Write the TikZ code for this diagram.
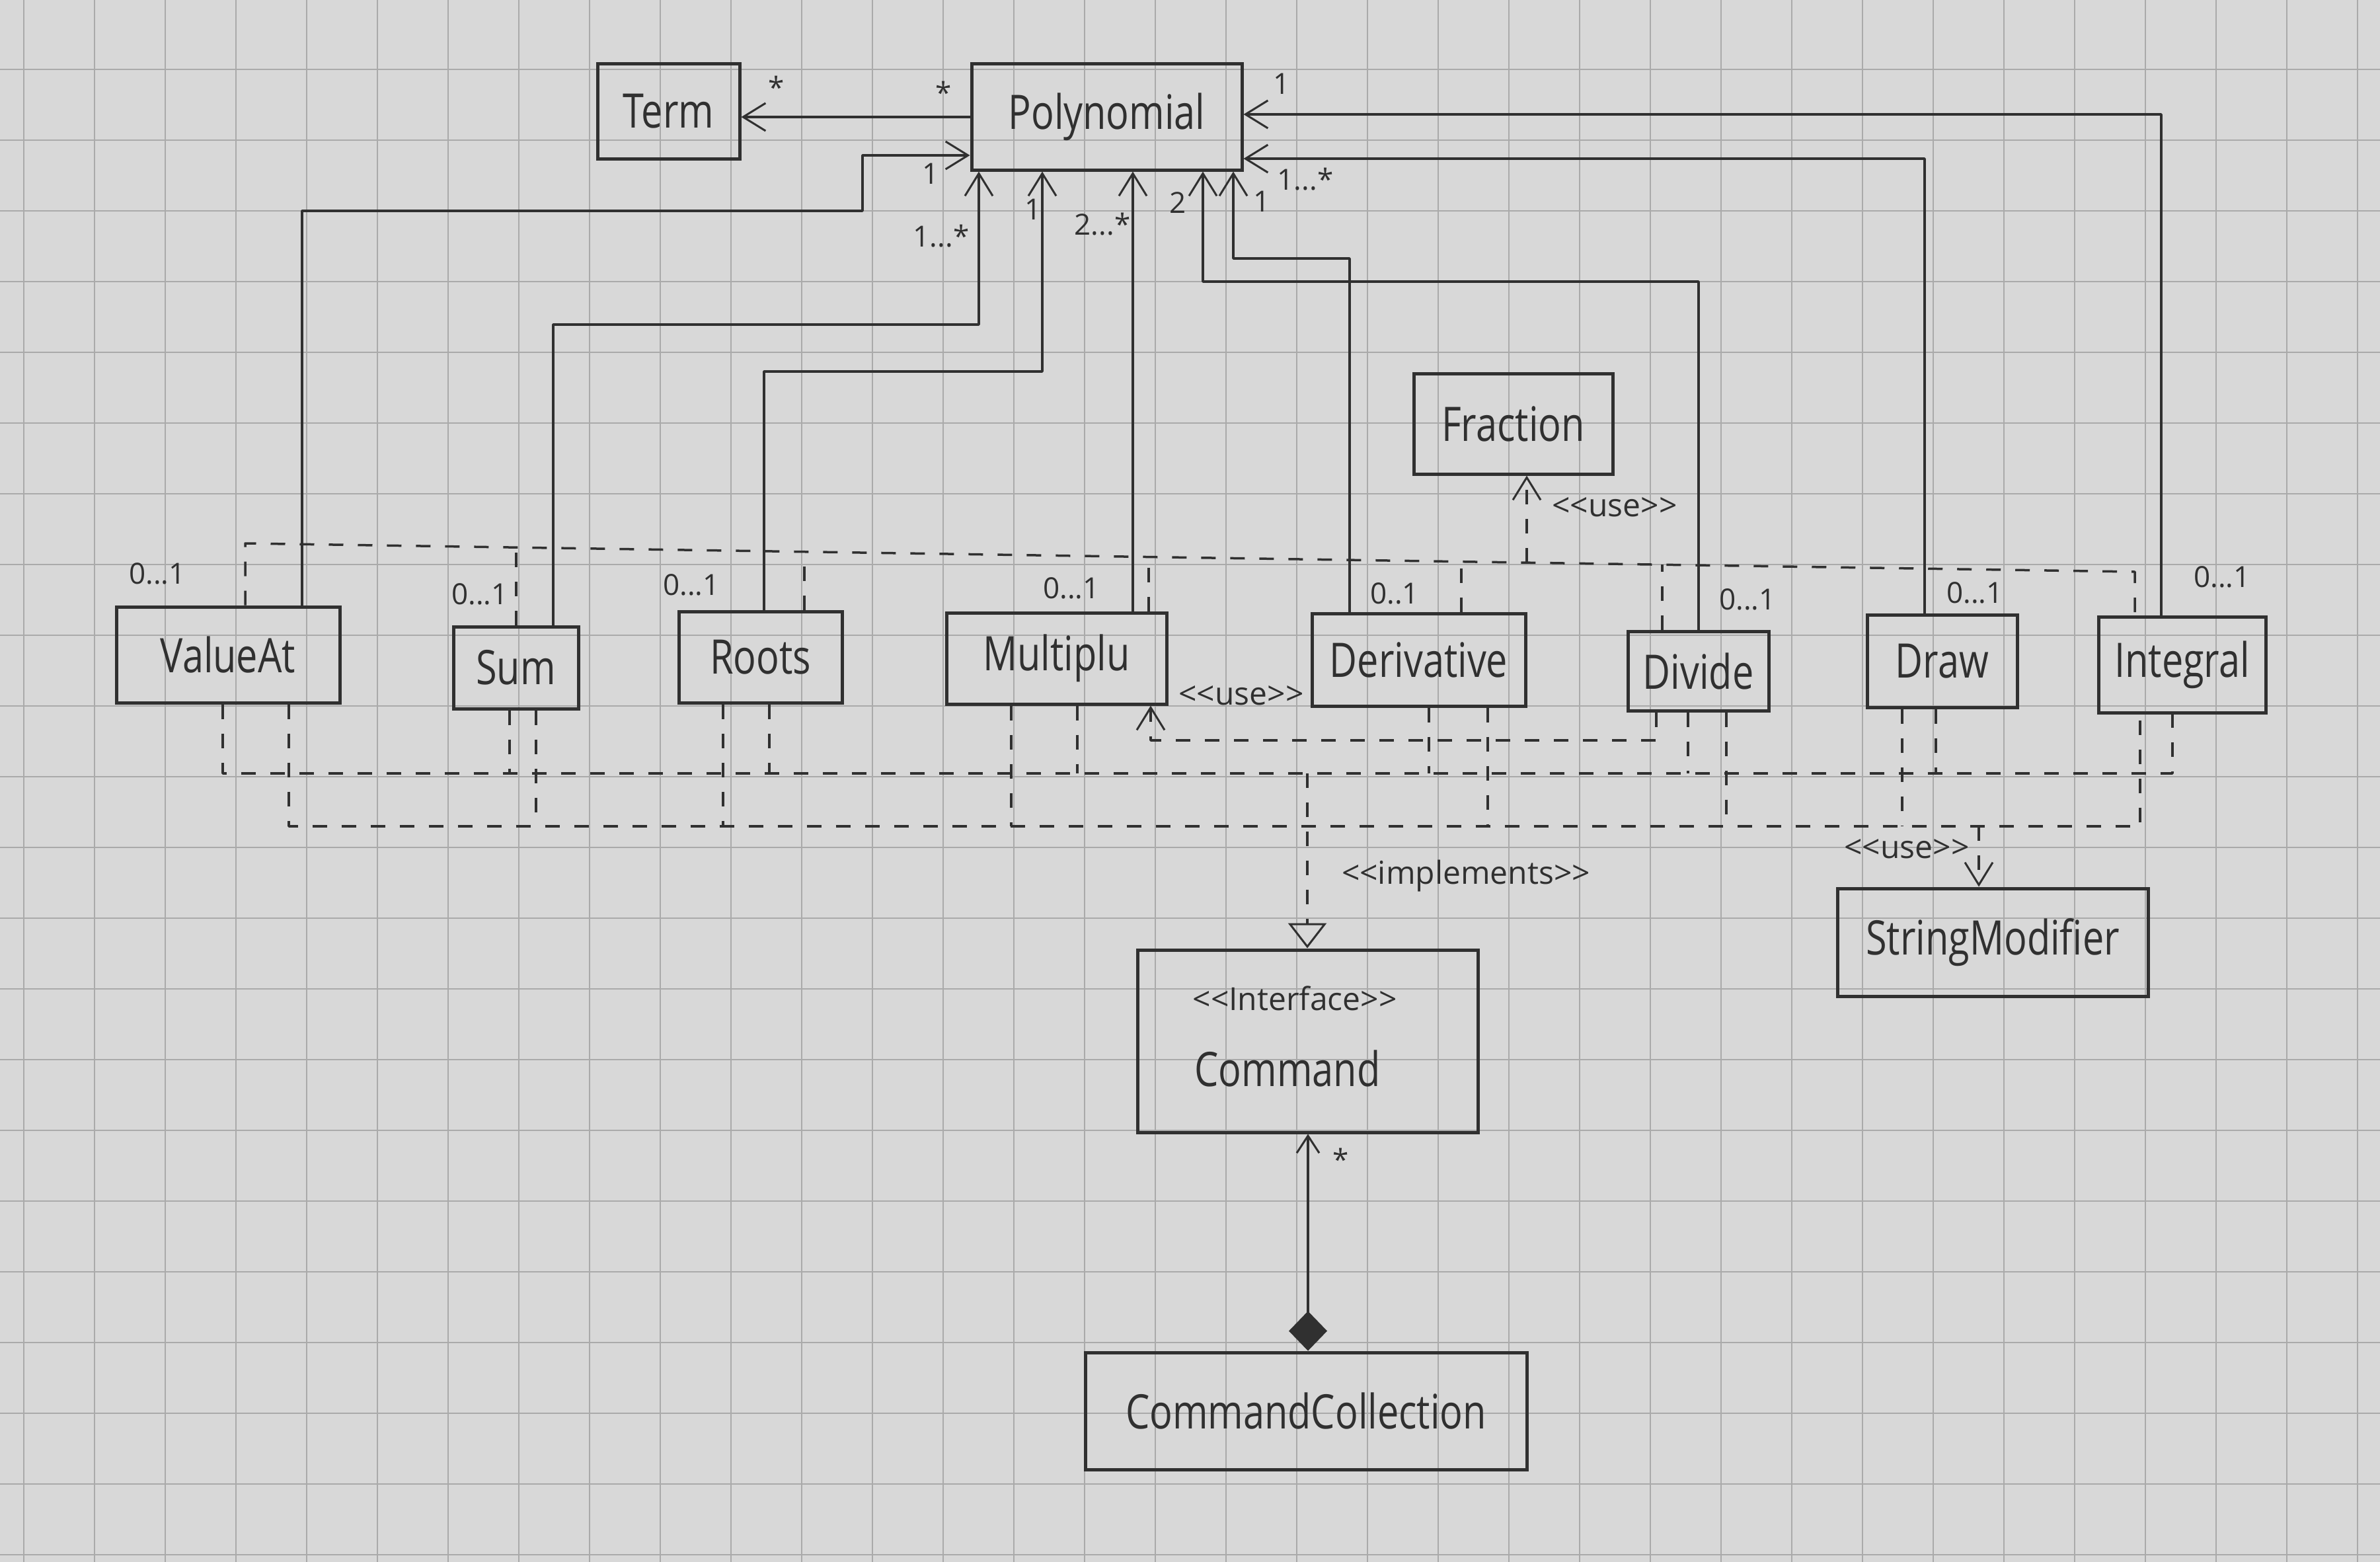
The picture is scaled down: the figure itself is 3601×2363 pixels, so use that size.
\documentclass[tikz,border=0pt]{standalone}
\usepackage{fontspec}
\setmainfont{Open Sans}[FakeStretch=0.8]
\newfontfamily\lblfont{Open Sans}
\usetikzlibrary{arrows.meta,calc}
\definecolor{paper}{RGB}{216,216,216}
\definecolor{gridc}{RGB}{170,170,170}
\definecolor{pencil}{RGB}{48,48,48}
\tikzset{
  classbox/.style={draw=pencil, line width=5pt, rectangle, inner sep=0pt, text=pencil,
    font=\fontsize{72}{80}\selectfont},
  conn/.style={draw=pencil, line width=3.5pt, line join=round},
  opentip/.style={-{Straight Barb[length=34pt,width=42pt,line width=3pt]}},
  dashconn/.style={conn, dash pattern=on 22pt off 22pt},
  mult/.style={text=pencil, font=\lblfont\fontsize{44}{50}\selectfont, inner sep=0pt},
  stereo/.style={text=pencil, font=\lblfont\fontsize{48}{54}\selectfont, inner sep=0pt},
  gridline/.style={draw=gridc, line width=2.5pt}
}
\begin{document}
\begin{tikzpicture}[x=1pt,y=-1pt]
\fill[paper] (0,0) rectangle (3601,2363);
\useasboundingbox (0,0) rectangle (3601,2363);
% paper grid
\foreach \gx in {36,143,...,3600} {\draw[gridline] (\gx,0) -- (\gx,2363);}
\foreach \gy in {105,212,...,2363} {\draw[gridline] (0,\gy) -- (3601,\gy);}

% classes
\node[classbox, minimum width=215pt, minimum height=143pt] (Term) at (1011.5,168.5) {Term};
\node[classbox, minimum width=409pt, minimum height=160pt] (Polynomial) at (1674.5,177) {Polynomial};
\node[classbox, minimum width=301pt, minimum height=152pt] (Fraction) at (2289.5,641) {Fraction};
\node[classbox, minimum width=338pt, minimum height=145pt] (ValueAt) at (345,990.5) {ValueAt};
\node[classbox, minimum width=189pt, minimum height=124pt] (Sum) at (780.5,1010) {Sum};
\node[classbox, minimum width=247pt, minimum height=138pt] (Roots) at (1150.5,994) {Roots};
\node[classbox, minimum width=333pt, minimum height=138pt] (Multiplu) at (1598.5,996) {Multiplu};
\node[classbox, minimum width=323pt, minimum height=140pt] (Derivative) at (2146.5,998) {Derivative};
\node[classbox, minimum width=213pt, minimum height=120pt] (Divide) at (2569.5,1015) {Divide};
\node[classbox, minimum width=227pt, minimum height=140pt] (Draw) at (2938.5,1000) {Draw};
\node[classbox, minimum width=253pt, minimum height=145pt] (Integral) at (3301.5,1005.5) {Integral};
\node[classbox, minimum width=470pt, minimum height=163pt] (StringModifier) at (3015,1425.5) {StringModifier};
\node[classbox, minimum width=515pt, minimum height=276pt] (Command) at (1978.5,1575) {};
\node[stereo] (CommandStereo) at (1959,1510) {<<Interface>>};
\node[text=pencil, font=\fontsize{72}{80}\selectfont, inner sep=0pt] (CommandName) at (1948,1616) {Command};
\node[classbox, minimum width=668pt, minimum height=177pt] (CommandCollection) at (1976,2134.5) {CommandCollection};

% associations to Polynomial
\draw[conn, opentip] (Polynomial.west) -- (Polynomial.west -| Term.east);
\draw[conn, opentip] (ValueAt.north -| 457,0) -- (457,319) -- (1305,319) -- (1305,235) -- (Polynomial.west |- 0,235);
\draw[conn, opentip] (Sum.north -| 837,0) -- (837,491) -- (1481,491) -- (Polynomial.south -| 1481,0);
\draw[conn, opentip] (Roots.north -| 1156,0) -- (1156,562) -- (1577,562) -- (Polynomial.south -| 1577,0);
\draw[conn, opentip] (Multiplu.north -| 1714,0) -- (Polynomial.south -| 1714,0);
\draw[conn, opentip] (Derivative.north -| 2042,0) -- (2042,391) -- (1866,391) -- (Polynomial.south -| 1866,0);
\draw[conn, opentip] (Divide.north -| 2570,0) -- (2570,426) -- (1820,426) -- (Polynomial.south -| 1820,0);
\draw[conn, opentip] (Draw.north -| 2912,0) -- (2912,240) -- (Polynomial.east |- 0,240);
\draw[conn, opentip] (Integral.north -| 3270,0) -- (3270,173) -- (Polynomial.east |- 0,173);

% multiplicities at Polynomial end
\node[mult] (mTermA) at (1175,132) {*};
\node[mult] (mTermB) at (1428,140) {*};
\node[mult] (mValueAt) at (1408,263) {1};
\node[mult] (mSum) at (1424,357) {1...*};
\node[mult] (mRoots) at (1563,317) {1};
\node[mult] (mMultiplu) at (1668,339) {2...*};
\node[mult] (mDivide) at (1782,307) {2};
\node[mult] (mDerivative) at (1909,305) {1};
\node[mult] (mDraw) at (1975,271) {1...*};
\node[mult] (mIntegral) at (1939,127) {1};

% multiplicities at class end
\node[mult] at (238,868) {0...1};
\node[mult] at (726,899) {0...1};
\node[mult] at (1046,885) {0...1};
\node[mult] at (1621,890) {0...1};
\node[mult] at (2110,898) {0..1};
\node[mult] at (2644,907) {0...1};
\node[mult] at (2988,897) {0...1};
\node[mult] at (3362,873) {0...1};

% upper dashed bus: use Fraction
\coordinate (fa) at (371,822);
\coordinate (fb) at (781,828);
\coordinate (fc) at (1217,835);
\coordinate (fd) at (1738,843);
\coordinate (fe) at (2211,850);
\coordinate (ff) at (2310,851);
\coordinate (fg) at (2515,854);
\coordinate (fh) at (3230,865);
\draw[dashconn] (ValueAt.north -| fa) -- (fa) -- (fh) -- (Integral.north -| fh);
\draw[dashconn] (Sum.north -| fb) -- (fb);
\draw[dashconn] (Roots.north -| fc) -- (fc);
\draw[dashconn] (Multiplu.north -| fd) -- (fd);
\draw[dashconn] (Derivative.north -| fe) -- (fe);
\draw[dashconn] (Divide.north -| fg) -- (fg);
\draw[dashconn, opentip] (ff) -- (Fraction.south -| ff);
\node[stereo] (useFraction) at (2443,767) {<<use>>};

% lower bus 1: implements Command
\coordinate (ba) at (337,1170);
\coordinate (bz) at (3287,1170);
\draw[dashconn] (ValueAt.south -| ba) -- (ba) -- (bz) -- (Integral.south -| bz);
\foreach \n/\x in {Sum/771, Roots/1164, Multiplu/1630, Derivative/2162, Divide/2554, Draw/2929} {
  \draw[dashconn] (\n.south -| \x,0) -- (\x,1170);
}
\coordinate (bimp) at (1978,1170);
\draw[dashconn, -{Triangle[open, length=38pt, width=58pt, line width=3pt]}] (bimp) -- (Command.north -| bimp);
\node[stereo] (implLabel) at (2218,1325) {<<implements>>};

% lower bus 2: use StringModifier
\coordinate (ca) at (437,1250);
\coordinate (cz) at (3238,1250);
\draw[dashconn] (ValueAt.south -| ca) -- (ca) -- (cz) -- (Integral.south -| cz);
\foreach \n/\x in {Sum/811, Roots/1094, Multiplu/1530, Derivative/2251, Divide/2612, Draw/2878} {
  \draw[dashconn] (\n.south -| \x,0) -- (\x,1250);
}
\coordinate (cstr) at (2994,1250);
\draw[dashconn, opentip] (cstr) -- (StringModifier.north -| cstr);
\node[stereo] (useString) at (2885,1284) {<<use>>};

% Divide uses Multiplu
\draw[dashconn, opentip] (Divide.south -| 2506,0) -- (2506,1120) -- (1741,1120) -- (Multiplu.south -| 1741,0);
\node[stereo] (useMult) at (1878,1052) {<<use>>};

% composition CommandCollection -> Command
\draw[conn, {Diamond[fill=pencil, length=60pt, width=58pt, line width=2pt]}-{Straight Barb[length=26pt,width=34pt,line width=3pt]}]
  (CommandCollection.north -| 1979,0) -- (Command.south -| 1979,0);
\node[mult] (mComp) at (2029,1754) {*};
\end{tikzpicture}
\end{document}
